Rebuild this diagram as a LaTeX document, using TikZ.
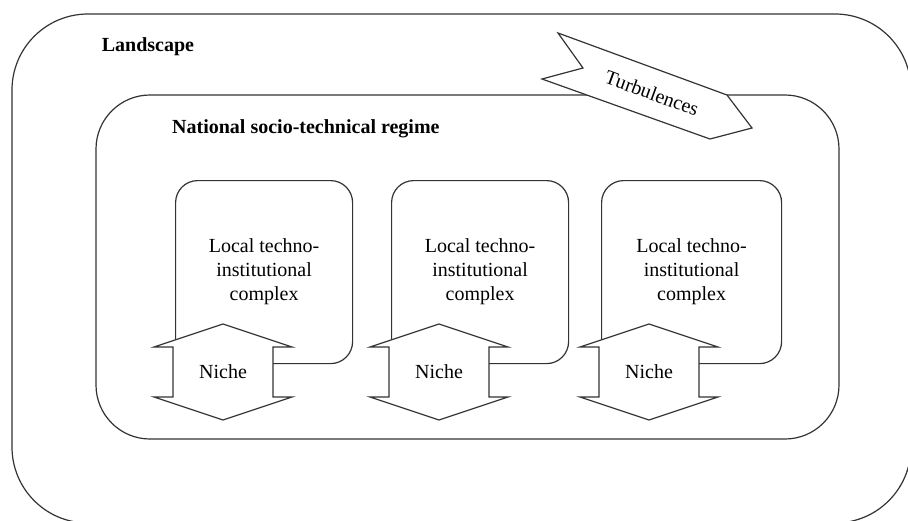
\documentclass[tikz,border=0pt]{standalone}
\usepackage{fontspec}
\IfFontExistsTF{LiberationSerif-Regular.ttf}
  {\setmainfont{LiberationSerif}[Extension=.ttf, UprightFont=*-Regular, BoldFont=*-Bold, ItalicFont=*-Italic, BoldItalicFont=*-BoldItalic]}
  {\setmainfont{Liberation Serif}}
\begin{document}
\begin{tikzpicture}[x=1pt,y=-1pt,
  edge/.style={draw=black!80, line width=1.2pt},
  localbox/.style={edge, rectangle, rounded corners=22pt, anchor=north west,
    minimum width=177pt, minimum height=183pt, inner sep=0pt, align=center,
    font=\fontsize{20}{24}\selectfont},
  nichearrow/.style={edge, fill=white, line join=miter},
  boldlabel/.style={inner sep=0pt, font=\fontsize{20}{24}\selectfont\bfseries},
  plainlabel/.style={inner sep=0pt, font=\fontsize{20}{24}\selectfont}
]
\useasboundingbox (0,0) rectangle (908,520);
\fill[white] (0,0) rectangle (908,520);
\clip (0,0) rectangle (908,520);

% landscape and regime frames
\draw[edge, rounded corners=76pt] (12,14) rectangle (911,523);
\draw[edge, rounded corners=54pt] (96,95) rectangle (839,439);

% turbulences flag
\draw[edge, fill=white, line join=miter] (558,33) -- (727,95) -- (752,128) -- (710,139) -- (542,79) -- (583,68) -- cycle;
\node[plainlabel, rotate=-20] (turb) at (652,93) {Turbulences};

\node[boldlabel] (land) at (148,47) {Landscape};
\node[boldlabel, anchor=west] (regime) at (172,129) {National socio-technical regime};

% local complexes
\node[localbox] (b1) at (175,180) {Local techno-\\institutional\\complex};
\node[localbox] (b2) at (391,180) {Local techno-\\institutional\\complex};
\node[localbox, minimum width=180pt] (b3) at (601,180) {Local techno-\\institutional\\complex};

% niche double arrows
\foreach \c/\n in {223/n1, 439/n2, 649/n3}{
  \draw[nichearrow] (\c,324) -- (\c+69,347) -- (\c+50,347) -- (\c+50,397) -- (\c+69,397)
    -- (\c,420) -- (\c-69,397) -- (\c-50,397) -- (\c-50,347) -- (\c-69,347) -- cycle;
  \node[plainlabel] (\n) at (\c,372) {Niche};
}
\end{tikzpicture}
\end{document}
